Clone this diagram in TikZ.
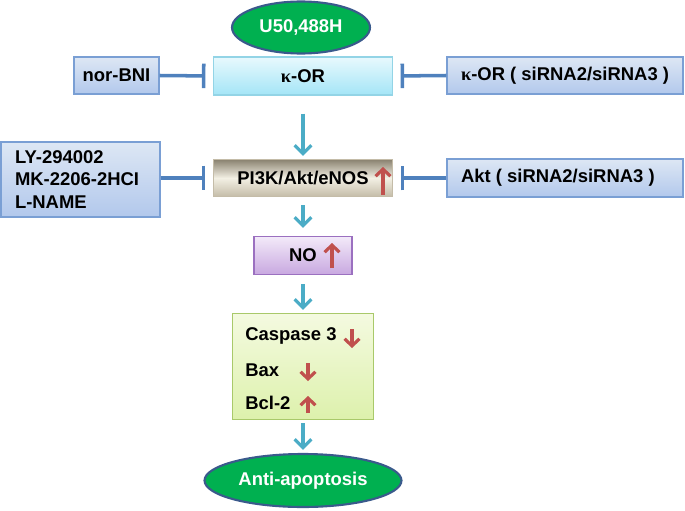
\documentclass[tikz,border=0pt]{standalone}
\usepackage{fontspec}
\setmainfont{Liberation Sans}
\newfontfamily\kapfont{Liberation Serif}
\usetikzlibrary{arrows.meta,shapes.geometric}
\definecolor{flowcyan}{HTML}{4BACC6}
\definecolor{teeblue}{HTML}{4F81BD}
\definecolor{uparrow}{HTML}{C0504D}
\definecolor{bluetop}{HTML}{DDE7F4}
\definecolor{bluebot}{HTML}{B2C8EC}
\definecolor{blueedge}{HTML}{7A9FD4}
\definecolor{cyantop}{HTML}{E8F9FD}
\definecolor{cyanbot}{HTML}{A4E5F7}
\definecolor{cyanedge}{HTML}{93D4E6}
\definecolor{pitop}{HTML}{8A8270}
\definecolor{pimid}{HTML}{F3F0E4}
\definecolor{pibot}{HTML}{C4BCA8}
\definecolor{notop}{HTML}{F3EAF9}
\definecolor{nobot}{HTML}{C8A8E0}
\definecolor{noedge}{HTML}{9B70C0}
\definecolor{casptop}{HTML}{F4FAE0}
\definecolor{caspbot}{HTML}{DDF1AC}
\definecolor{caspedge}{HTML}{A9C96A}
\definecolor{ovalgreen}{HTML}{00B050}
\definecolor{ovaledge}{HTML}{3A5A8C}
\newcommand{\kap}{{\kapfont\char"03BA}}
\begin{document}
\begin{tikzpicture}[x=0.02cm,y=-0.02cm,font=\fontsize{10.5}{12.6}\selectfont\bfseries,
	bluebox/.style={draw=blueedge,line width=0.7pt,top color=bluetop,bottom color=bluebot,inner sep=0pt},
	oval/.style={ellipse,draw=ovaledge,line width=1.2pt,fill=ovalgreen,text=white,inner sep=0pt},
	flow/.style={draw=flowcyan,line width=1.8pt,-{Straight Barb[length=4.8pt,width=9.5pt]}},
	block/.style={draw=teeblue,line width=2pt,-{Bar[width=14pt]},shorten >=0.15cm},
	updown/.style={draw=uparrow,line width=1.8pt,-{Straight Barb[length=4pt,width=8.5pt]}}]
\useasboundingbox (0,0) rectangle (685,510);
\node[oval,minimum width=2.76cm,minimum height=1.04cm] (u50) at (301,27.5) {U50,488H};
\node[draw=cyanedge,line width=0.7pt,top color=cyantop,bottom color=cyanbot,minimum width=3.58cm,minimum height=0.76cm,inner sep=0pt] (kor) at (303,76) {\kap-OR};
\node[bluebox,minimum width=1.7cm,minimum height=0.74cm] (norbni) at (116.5,75.5) {nor-BNI};
\node[bluebox,minimum height=0.74cm,inner xsep=0.28cm] (korsi) at (565,75.5) {\makebox[4.16cm][l]{\kap-OR ( siRNA2/siRNA3 )}};
\node[draw=pibot,line width=0.7pt,top color=pitop,bottom color=pibot,middle color=pimid,minimum width=3.58cm,minimum height=0.74cm,inner sep=0pt] (pik) at (303,178) {PI3K/Akt/eNOS};
\node[bluebox,minimum height=1.5cm,text width=2.62cm,inner xsep=0.28cm,align=left] (ly) at (80.5,179.5) {LY-294002\\MK-2206-2HCI\\L-NAME};
\node[bluebox,minimum height=0.76cm,inner xsep=0.28cm] (aktsi) at (565,178) {\makebox[4.16cm][l]{Akt ( siRNA2/siRNA3 )}};
\node[draw=noedge,line width=0.7pt,top color=notop,bottom color=nobot,minimum width=1.96cm,minimum height=0.76cm,inner sep=0pt] (no) at (303,255.5) {NO};
\node[draw=caspedge,line width=0.7pt,top color=casptop,bottom color=caspbot,minimum width=2.82cm,minimum height=2.12cm,inner sep=0pt] (casp) at (303,366.5) {};
\node[anchor=west,inner sep=0pt] (cas3) at (245,336) {Caspase 3};
\node[anchor=west,inner sep=0pt] (bax) at (245,370) {Bax};
\node[anchor=west,inner sep=0pt] (bcl) at (245,403) {Bcl-2};
\node[oval,minimum width=3.94cm,minimum height=1.06cm] (anti) at (303,480.5) {Anti-apoptosis};
\draw[block] (norbni.east) -- (kor.west);
\draw[block] (korsi.west) -- (kor.east);
\draw[block] (ly.east |- pik.west) -- (pik.west);
\draw[block] (aktsi.west) -- (pik.east);
\draw[flow,shorten <=0.36cm,shorten >=0.06cm] (kor.south) -- (pik.north);
\draw[flow,shorten <=0.16cm,shorten >=0.16cm] (pik.south) -- (no.north);
\draw[flow,shorten <=0.18cm,shorten >=0.06cm] (no.south) -- (casp.north);
\draw[flow,shorten <=0.06cm,shorten >=0.06cm] (casp.south) -- (anti.north);
\draw[updown] (383,195) -- (383,167);
\draw[updown] (332,268) -- (332,243);
\draw[updown] (352,329) -- (352,348);
\draw[updown] (308,363) -- (308,381);
\draw[updown] (308,413) -- (308,396);
\end{tikzpicture}
\end{document}
